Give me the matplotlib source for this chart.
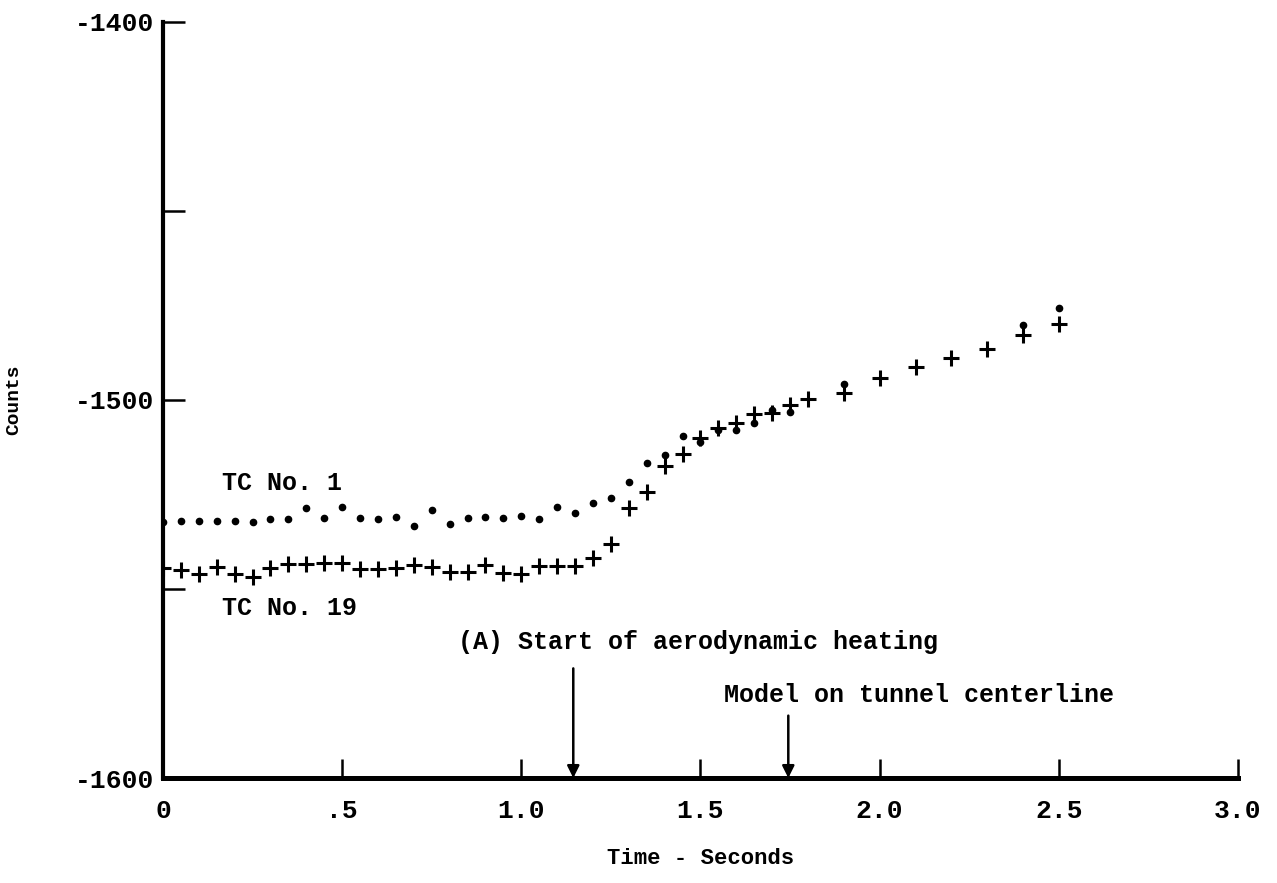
import numpy as np
import matplotlib
matplotlib.use("Agg")
import matplotlib.pyplot as plt

# Time (s) and counts
tc19_time = [0.00, 0.05, 0.10, 0.15, 0.20, 0.25, 0.30, 0.35, 0.40, 0.45,
             0.50, 0.55, 0.60, 0.65, 0.70, 0.75, 0.80, 0.85, 0.90, 0.95,
             1.00, 1.05, 1.10, 1.15, 1.20, 1.25, 1.30, 1.35, 1.40, 1.45,
             1.50, 1.55, 1.60, 1.65, 1.70, 1.75, 1.80, 1.90, 2.00, 2.10,
             2.20, 2.30, 2.40, 2.50]
tc19_counts = [-1544.4, -1545.0, -1546.0, -1544.1, -1546.0, -1546.8, -1544.4, -1543.4, -1543.4, -1543.1,
               -1543.1, -1544.7, -1544.7, -1544.4, -1543.6, -1544.2, -1545.5, -1545.5, -1543.6, -1545.8,
               -1546.0, -1543.9, -1543.9, -1543.9, -1541.8, -1538.1, -1528.7, -1524.3, -1517.5, -1514.3,
               -1510.1, -1507.4, -1506.1, -1503.7, -1503.4, -1501.3, -1499.7, -1498.1, -1494.2, -1491.3,
               -1488.9, -1486.5, -1482.8, -1479.9]

tc1_time = [0.00, 0.05, 0.10, 0.15, 0.20, 0.25, 0.30, 0.35, 0.40, 0.45,
            0.50, 0.55, 0.60, 0.65, 0.70, 0.75, 0.80, 0.85, 0.90, 0.95,
            1.00, 1.05, 1.10, 1.15, 1.20, 1.25, 1.30, 1.35, 1.40, 1.45,
            1.50, 1.55, 1.60, 1.65, 1.70, 1.75, 1.90, 2.40, 2.50]
tc1_counts = [-1532.2, -1531.9, -1532.0, -1532.0, -1531.9, -1532.3, -1531.5, -1531.6, -1528.7, -1531.3,
              -1528.2, -1531.3, -1531.5, -1530.9, -1533.3, -1529.1, -1532.7, -1531.1, -1530.9, -1531.3,
              -1530.7, -1531.5, -1528.2, -1529.8, -1527.3, -1525.8, -1521.8, -1516.7, -1514.6, -1509.5,
              -1511.0, -1507.9, -1507.9, -1506.0, -1502.6, -1503.1, -1495.8, -1480.2, -1475.7]

x_ticks = [0, 0.5, 1.0, 1.5, 2.0, 2.5, 3.0]
x_ticklabels = ["0", ".5", "1.0", "1.5", "2.0", "2.5", "3.0"]
y_ticks = [-1600, -1550, -1500, -1450, -1400]
y_ticklabels = ["-1600", "", "-1500", "", "-1400"]

event_a_time = 1.145
event_b_time = 1.745

mono = "Liberation Mono"

fig = plt.figure(figsize=(12.77, 8.83), dpi=100)
ax = fig.add_axes([0.1276, 0.1189, 0.8419, 0.8562])

ax.plot(tc1_time, tc1_counts, 'o', color='black', markersize=4.5, linestyle='none')
ax.plot(tc19_time, tc19_counts, '+', color='black', markersize=12,
        markeredgewidth=2.2, linestyle='none')

ax.set_xlim(0, 3.0)
ax.set_ylim(-1600, -1400)

for side in ['top', 'right']:
    ax.spines[side].set_visible(False)
ax.spines['left'].set_linewidth(3.0)
ax.spines['bottom'].set_linewidth(3.6)

ax.set_xticks(x_ticks)
ax.set_xticklabels(x_ticklabels, fontfamily=mono, fontsize=19, fontweight='bold')
ax.set_yticks(y_ticks)
ax.set_yticklabels(y_ticklabels, fontfamily=mono, fontsize=19, fontweight='bold')
ax.tick_params(axis='x', direction='in', length=14, width=1.8, pad=15)
ax.tick_params(axis='y', direction='in', length=16, width=1.8, pad=6)

ax.set_xlabel('Time - Seconds', fontfamily=mono, fontsize=16, fontweight='bold', labelpad=18)
ax.set_ylabel('Counts', fontfamily=mono, fontsize=14, fontweight='bold', labelpad=38)

# Curve labels
ax.text(0.165, -1522, 'TC No. 1', fontfamily=mono, fontsize=18, fontweight='bold',
        ha='left', va='center')
ax.text(0.165, -1555, 'TC No. 19', fontfamily=mono, fontsize=18, fontweight='bold',
        ha='left', va='center')

# Event markers
ax.text(0.823, -1564, '(A) Start of aerodynamic heating', fontfamily=mono, fontsize=18,
        fontweight='bold', ha='left', va='center')
ax.annotate('', xy=(event_a_time, -1600), xytext=(event_a_time, -1571),
            arrowprops=dict(arrowstyle='-|>', color='black', lw=1.8, mutation_scale=18,
                            shrinkA=0, shrinkB=0))
ax.text(1.566, -1578, 'Model on tunnel centerline', fontfamily=mono, fontsize=18,
        fontweight='bold', ha='left', va='center')
ax.annotate('', xy=(event_b_time, -1600), xytext=(event_b_time, -1583.5),
            arrowprops=dict(arrowstyle='-|>', color='black', lw=1.8, mutation_scale=18,
                            shrinkA=0, shrinkB=0))

fig.savefig('out.png', dpi=100)
